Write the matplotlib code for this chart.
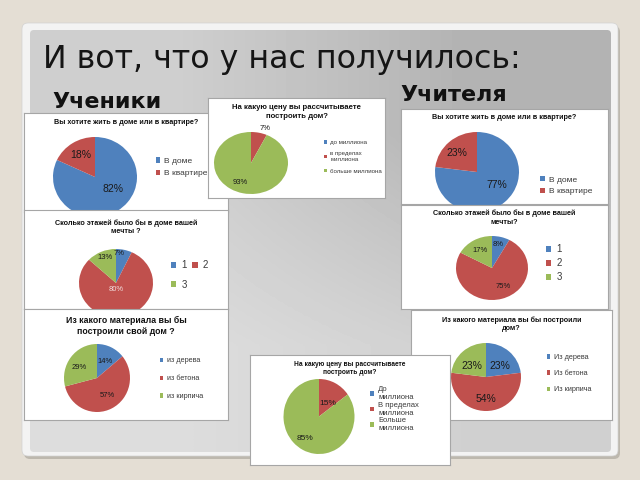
import matplotlib
matplotlib.use('Agg')
import matplotlib.pyplot as plt
import matplotlib.transforms as mtransforms
from matplotlib.patches import FancyBboxPatch
import numpy as np

plt.rcParams['font.family'] = ['Liberation Sans', 'DejaVu Sans']

# цвета секторов (тема Office)
pie_colors = ['#4F81BD', '#C0504D', '#9BBB59']

# Ученики
st_house = [82, 18]
st_house_labels = ['В доме', 'В квартире']
st_price = [0, 7, 93]
st_price_labels = ['до миллиона', 'в пределах\nмиллиона', 'больше миллиона']
st_floors = [7, 80, 13]
st_floors_labels = ['1', '2', '3']
st_material = [14, 57, 29]
st_material_labels = ['из дерева', 'из бетона', 'из кирпича']

# Учителя
te_house = [77, 23]
te_house_labels = ['В доме', 'В квартире']
te_floors = [8, 75, 17]
te_floors_labels = ['1', '2', '3']
te_material = [23, 54, 23]
te_material_labels = ['Из дерева', 'Из бетона', 'Из кирпича']
te_price = [0, 15, 85]
te_price_labels = ['До\nмиллиона', 'В пределах\nмиллиона', 'Больше\nмиллиона']

W, H = 640, 480
fig = plt.figure(figsize=(6.4, 4.8), dpi=100)
fig.patch.set_facecolor('#e4ded4')
# пиксели слайда (y вниз) -> координаты фигуры
px = mtransforms.Affine2D().scale(1 / W, -1 / H).translate(0, 1) + fig.transFigure

# фон слайда
bg = fig.add_axes([0, 0, 1, 1])
bg.axis('off')
bg.add_patch(FancyBboxPatch((24, 26), 596, 433, boxstyle='round,pad=0,rounding_size=6',
                            fc='#bdb8ae', ec='none'))
bg.add_patch(FancyBboxPatch((22, 23), 596, 433, boxstyle='round,pad=0,rounding_size=6',
                            fc='#f3f3f3', ec='#d2d2d2', lw=0.5))
panel = FancyBboxPatch((30, 30), 581, 422, boxstyle='round,pad=0,rounding_size=4',
                       fc='none', ec='none')
bg.add_patch(panel)
grad = np.array([[207, 179], [221, 208]]) / 255
im = bg.imshow(grad, cmap='gray', vmin=0, vmax=1, extent=(30, 611, 452, 30),
               interpolation='bilinear', aspect='auto', zorder=2)
im.set_clip_path(panel)
bg.set_xlim(0, W)
bg.set_ylim(H, 0)

bg.text(43, 68, 'И вот, что у нас получилось:', fontsize=22.8, family='DejaVu Sans',
        color='#151515', va='baseline', zorder=3)
bg.text(52, 108, 'Ученики', fontsize=16, fontweight='bold', family='DejaVu Sans',
        color='#111111', va='baseline', zorder=3)
bg.text(400, 101, 'Учителя', fontsize=16, fontweight='bold', family='DejaVu Sans',
        color='#111111', va='baseline', zorder=3)


def draw_chart(box, title, title_y, title_fs, values, labels, pie, pct_pos, pct_fs,
               leg_xy, leg_fs, leg_space, ncol=1, order=None, pct_colors=None, title_ls=1.2):
    x0, y0, x1, y1 = box
    ax = fig.add_axes([x0 / W, 1 - y1 / H, (x1 - x0) / W, (y1 - y0) / H])
    ax.set_xticks([])
    ax.set_yticks([])
    for s in ax.spines.values():
        s.set_color('#a6a6a6')
        s.set_linewidth(0.8)
    ax.text((x0 + x1) / 2, title_y, title, transform=px, ha='center', va='top',
            fontsize=title_fs, fontweight='bold', color='#111111', linespacing=title_ls)

    # круговая диаграмма (слегка эллиптическая, как на слайде)
    cx, cy, rx, ry = pie
    pax = fig.add_axes([(cx - rx) / W, 1 - (cy + ry) / H, 2 * rx / W, 2 * ry / H])
    wedges, _ = pax.pie(values, colors=pie_colors[:len(values)], startangle=90,
                        counterclock=False, radius=1, wedgeprops=dict(linewidth=0))
    pax.set_xlim(-1, 1)
    pax.set_ylim(-1, 1)
    pax.set_aspect('auto')
    pax.axis('off')
    if pct_colors is None:
        pct_colors = ['#1a1a1a'] * len(values)
    for w, v, pos, c in zip(wedges, values, pct_pos, pct_colors):
        if v == 0:
            continue
        d, shift = pos
        a = np.deg2rad((w.theta1 + w.theta2) / 2 + shift)
        pax.text(d * np.cos(a), d * np.sin(a), f'{v}%', ha='center', va='center',
                 fontsize=pct_fs, color=c)

    handles, names = list(wedges), list(labels)
    if order is not None:
        handles = [handles[i] for i in order]
        names = [names[i] for i in order]
    ax.legend(handles, names, loc='upper left', bbox_to_anchor=leg_xy, bbox_transform=px,
              frameon=False, fontsize=leg_fs, labelcolor='#3a3a3a', borderpad=0,
              borderaxespad=0, handlelength=0.55, handleheight=0.55, handletextpad=0.5,
              labelspacing=leg_space, ncol=ncol, columnspacing=0.6)


# Ученики: дом или квартира
draw_chart((24, 113, 228, 212), 'Вы хотите жить в доме или в квартире?', 119, 5.2,
           st_house, st_house_labels, (95, 177, 42, 40), [(0.52, 21), (0.65, 0)], 7.5,
           (155.5, 157.5), 6, 0.55)
# Ученики: цена
draw_chart((208, 98, 385, 198), 'На какую цену вы рассчитываете\nпостроить дом?', 104, 5.6,
           st_price, st_price_labels, (251, 163, 37, 31), [None, (1.18, -6), (0.68, -12)], 5.5,
           (324, 140), 4.4, 1.05, title_ls=1.3)
# Учителя: дом или квартира
draw_chart((401, 109, 608, 204), 'Вы хотите жить в доме или в квартире?', 114, 5.2,
           te_house, te_house_labels, (477, 172, 42, 40), [(0.57, 14), (0.68, 4)], 7.5,
           (540, 176.2), 6, 0.5)
# Ученики: этажи
draw_chart((24, 210, 228, 309), 'Сколько этажей было бы в доме вашей\nмечты ?', 219, 5.2,
           st_floors, st_floors_labels, (116, 283, 37, 34), [(0.88, 7), (0.18, -11), (0.8, -1)], 5.5,
           (171, 260.3), 7, 0.97, ncol=2, order=[0, 2, 1],
           pct_colors=['#1a1a1a', '#f2dede', '#1a1a1a'], title_ls=1.35)
# Учителя: этажи
draw_chart((401, 205, 608, 309), 'Сколько этажей было бы в доме вашей\nмечты?', 209.5, 5.2,
           te_floors, te_floors_labels, (492, 268, 36, 32), [(0.74, 2), (0.66, 12), (0.65, 0)], 5.5,
           (546, 244.3), 7, 0.42, title_ls=1.3)
# Ученики: материал
draw_chart((24, 309, 228, 420), 'Из какого материала вы бы\nпостроили свой дом ?', 316, 6.3,
           st_material, st_material_labels, (97, 378, 33, 34), [(0.54, -1), (0.59, 5), (0.62, 9)], 5.5,
           (159.5, 357.5), 5.2, 1.49, title_ls=1.3)
# Учителя: материал
draw_chart((411, 310, 612, 420), 'Из какого материала вы бы построили\nдом?', 316, 5.2,
           te_material, te_material_labels, (486, 377, 35, 34), [(0.51, -10), (0.66, 0), (0.52, 11)], 7.5,
           (546.5, 354.1), 5.2, 1.26, title_ls=1.25)
# Учителя: цена
draw_chart((250, 355, 450, 465), 'На какую цену вы рассчитываете\nпостроить дом?', 361.5, 4.8,
           te_price, te_price_labels, (319, 416.5, 35.5, 37.5), [None, (0.42, -9), (0.71, -8)], 6,
           (370, 386.3), 5.5, 0.05)

plt.savefig('out.png', dpi=100, facecolor=fig.get_facecolor())
